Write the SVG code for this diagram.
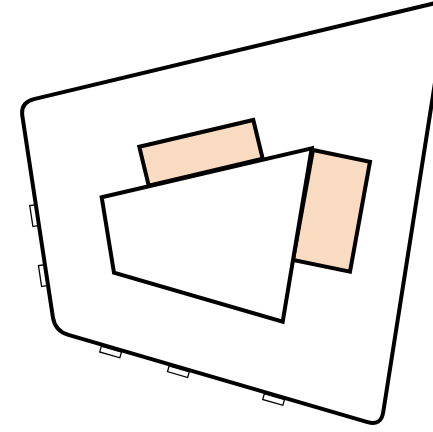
<svg xmlns="http://www.w3.org/2000/svg" width="433" height="432" viewBox="0 0 433 432">
  <style>
    .tab { fill: #ffffff; stroke: #000000; stroke-width: 1.3; }
    .outer { fill: #ffffff; stroke: #000000; stroke-width: 4; stroke-linejoin: round; }
    .peach { fill: #f9dbc1; stroke: #000000; stroke-width: 4; stroke-linejoin: miter; }
    .white { fill: #ffffff; stroke: #000000; stroke-width: 4; stroke-linejoin: miter; }
  </style>
  <rect x="0" y="0" width="433" height="432" fill="#ffffff"/>
  <g id="tabs">
    <rect class="tab" x="-3" y="-10.5" width="6" height="21" transform="translate(34.3,215.6) rotate(-8.6)"/>
    <rect class="tab" x="-3" y="-10.5" width="6" height="21" transform="translate(43,275.6) rotate(-8.6)"/>
    <rect class="tab" x="-10.5" y="-3" width="21" height="6" transform="translate(110.6,352) rotate(16.25)"/>
    <rect class="tab" x="-10.5" y="-3" width="21" height="6" transform="translate(178.4,371.7) rotate(16.25)"/>
    <rect class="tab" x="-10.5" y="-3" width="21" height="6" transform="translate(273.6,399.5) rotate(16.25)"/>
  </g>
  <g id="outer">
    <path class="outer" d="M33.9,99.1 L434.4,3.3 Q448,0 445.8,13.8 L383.2,412.2 Q381,426 367.6,422.1 L68.4,334.9 Q55,331 52.9,317.2 L22.4,116.2 Q20.3,102.4 33.9,99.1 Z"/>
  </g>
  <g id="peach-top">
    <polygon class="peach" points="139.3,146.7 253.3,120 262.7,158.7 148.7,185.7"/>
  </g>
  <g id="peach-right">
    <polygon class="peach" points="313,150 370,161.7 350,271.7 293,260"/>
  </g>
  <g id="white-shape">
    <polygon class="white" points="101.7,197.3 311.7,148.3 282.7,321.7 114,272.7"/>
  </g>
</svg>
